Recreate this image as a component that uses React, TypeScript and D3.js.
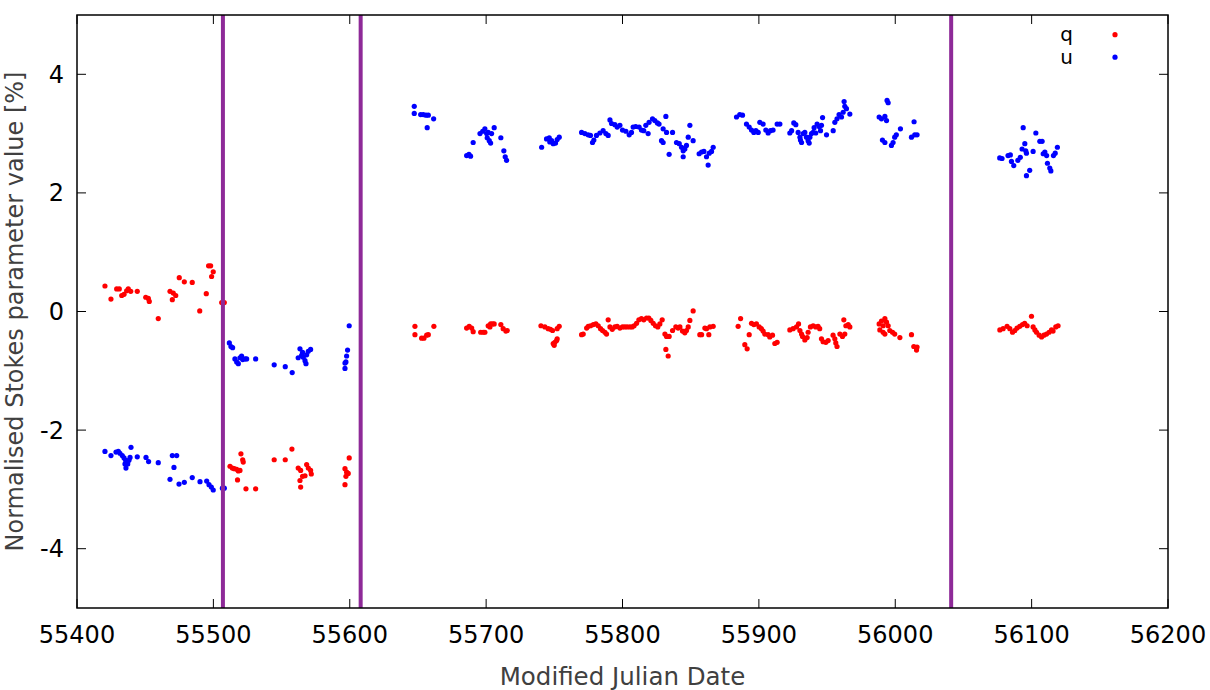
import React from "react";
import * as d3 from "d3";

const qPoints: [number, number][] = [
  [55420.5,0.43],[55424.9,0.21],[55429.1,0.38],[55431.0,0.38],[55432.8,0.27],[55434.5,0.29],[55436.4,0.35],[55437.6,0.38],[55439.4,0.34],[55444.2,0.34],[55450.4,0.24],[55452.3,0.22],[55453.0,0.17],[55459.6,-0.12],[55468.2,0.34],[55470.6,0.31],[55472.4,0.27],[55469.9,0.20],[55475.0,0.57],[55478.7,0.50],[55484.5,0.49],[55490.0,0.01],[55494.8,0.30],[55496.5,0.77],[55498.0,0.77],[55499.9,0.67],[55498.7,0.59],[55506.1,0.15],[55508.0,0.15],
  [55512.2,-2.61],[55513.9,-2.64],[55515.3,-2.65],[55517.1,-2.66],[55518.3,-2.69],[55519.5,-2.68],[55520.2,-2.40],[55521.5,-2.50],[55521.9,-2.54],[55517.7,-2.84],[55523.9,-2.99],[55531.0,-2.99],[55544.6,-2.50],[55552.7,-2.50],[55557.6,-2.32],[55562.2,-2.64],[55564.0,-2.68],[55565.4,-2.78],[55567.2,-2.77],[55563.5,-2.85],[55564.0,-2.96],[55568.4,-2.58],[55569.6,-2.64],[55571.3,-2.68],[55571.8,-2.74],
  [55599.6,-2.47],[55596.5,-2.65],[55597.7,-2.71],[55598.9,-2.73],[55597.2,-2.78],[55596.5,-2.92],
  [55647.8,-0.25],[55647.8,-0.39],[55652.7,-0.45],[55654.4,-0.45],[55656.4,-0.40],[55657.6,-0.39],[55661.7,-0.25],
  [55685.7,-0.28],[55687.6,-0.25],[55689.4,-0.28],[55690.5,-0.34],[55696.0,-0.35],[55697.9,-0.35],[55699.1,-0.35],[55701.5,-0.24],[55703.3,-0.21],[55704.7,-0.21],[55705.9,-0.21],[55702.8,-0.26],[55710.8,-0.22],[55712.5,-0.29],[55714.5,-0.33],[55715.5,-0.32],
  [55740.2,-0.24],[55743.1,-0.26],[55745.5,-0.29],[55747.2,-0.30],[55748.7,-0.32],[55749.2,-0.54],[55750.4,-0.52],[55751.7,-0.49],[55749.9,-0.57],[55752.1,-0.46],[55752.1,-0.29],[55753.6,-0.25],
  [55770.0,-0.39],[55771.2,-0.38],[55773.7,-0.28],[55774.9,-0.25],[55776.6,-0.24],[55778.6,-0.22],[55780.5,-0.21],[55782.2,-0.24],[55783.9,-0.29],[55785.4,-0.32],[55787.1,-0.35],[55788.3,-0.38],[55789.5,-0.14],[55790.8,-0.26],[55792.5,-0.30],[55794.4,-0.26],[55796.1,-0.25],[55798.1,-0.28],[55800.0,-0.26],[55801.7,-0.26],[55803.4,-0.26],[55805.4,-0.26],[55807.1,-0.26],[55808.5,-0.24],[55810.3,-0.20],[55812.0,-0.14],[55813.9,-0.12],[55815.6,-0.14],[55817.6,-0.11],[55819.3,-0.11],[55820.8,-0.15],[55822.5,-0.20],[55824.2,-0.24],[55825.9,-0.26],[55827.4,-0.21],[55829.1,-0.14],[55831.1,-0.38],[55832.3,-0.42],[55834.2,-0.42],[55831.8,-0.64],[55833.5,-0.75],[55836.7,-0.32],[55839.1,-0.26],[55840.8,-0.28],[55842.1,-0.26],[55844.0,-0.33],[55845.7,-0.36],[55846.9,-0.32],[55848.2,-0.26],[55849.4,-0.15],[55851.8,0.01],[55856.7,-0.39],[55858.0,-0.39],[55860.4,-0.28],[55861.6,-0.29],[55863.3,-0.39],[55864.1,-0.26],[55866.5,-0.25],
  [55886.6,-0.12],[55884.8,-0.25],[55889.7,-0.56],[55891.4,-0.63],[55892.9,-0.39],[55894.6,-0.20],[55896.3,-0.22],[55898.2,-0.21],[55900.2,-0.26],[55901.9,-0.29],[55903.1,-0.33],[55904.3,-0.38],[55906.8,-0.39],[55908.0,-0.43],[55910.0,-0.40],[55911.7,-0.54],[55913.4,-0.52],
  [55922.7,-0.31],[55925.1,-0.29],[55927.6,-0.26],[55929.1,-0.21],[55930.1,-0.32],[55931.3,-0.38],[55932.0,-0.42],[55933.7,-0.48],[55935.4,-0.44],[55936.1,-0.35],[55937.8,-0.26],[55939.8,-0.24],[55941.7,-0.26],[55943.4,-0.25],[55944.6,-0.29],[55945.9,-0.46],[55947.1,-0.51],[55949.1,-0.52],[55950.8,-0.49],[55954.4,-0.40],[55955.7,-0.46],[55956.4,-0.53],[55957.3,-0.59],[55959.4,-0.38],[55961.3,-0.42],[55963.0,-0.38],[55962.3,-0.14],[55963.8,-0.24],[55965.5,-0.22],[55966.7,-0.26],
  [55988.2,-0.21],[55989.9,-0.16],[55991.1,-0.24],[55992.4,-0.12],[55993.6,-0.18],[55994.8,-0.24],[55988.7,-0.31],[55991.1,-0.35],[55992.4,-0.38],[55996.0,-0.32],[55998.0,-0.35],[55999.6,-0.38],[56003.4,-0.44],[56011.9,-0.39],[56013.6,-0.59],[56015.6,-0.65],[56016.0,-0.60],
  [56076.7,-0.31],[56079.1,-0.29],[56082.0,-0.25],[56084.0,-0.29],[56086.0,-0.35],[56087.7,-0.32],[56089.3,-0.28],[56091.3,-0.25],[56093.3,-0.22],[56094.9,-0.20],[56096.7,-0.24],[56099.9,-0.08],[56101.1,-0.26],[56102.4,-0.31],[56103.6,-0.35],[56105.5,-0.40],[56107.3,-0.43],[56109.0,-0.40],[56110.9,-0.38],[56112.8,-0.35],[56114.6,-0.31],[56115.7,-0.33],[56117.7,-0.26],[56119.4,-0.24],
];

const uPoints: [number, number][] = [
  [55420.5,-2.36],[55424.9,-2.43],[55428.6,-2.37],[55430.3,-2.36],[55431.5,-2.39],[55433.2,-2.43],[55434.5,-2.47],[55435.7,-2.51],[55435.2,-2.57],[55435.9,-2.64],[55437.2,-2.57],[55438.1,-2.51],[55438.9,-2.46],[55439.6,-2.29],[55444.2,-2.45],[55450.6,-2.46],[55452.5,-2.53],[55459.6,-2.55],[55469.9,-2.43],[55473.1,-2.43],[55471.1,-2.63],[55468.2,-2.83],[55474.8,-2.91],[55478.7,-2.88],[55484.5,-2.80],[55490.2,-2.87],[55495.1,-2.86],[55496.8,-2.92],[55498.5,-2.96],[55499.9,-3.01],[55506.6,-2.98],[55508.0,-2.98],
  [55511.7,-0.53],[55512.9,-0.59],[55514.1,-0.61],[55515.8,-0.80],[55517.1,-0.85],[55518.3,-0.88],[55519.5,-0.78],[55520.7,-0.75],[55521.5,-0.81],[55523.2,-0.80],[55524.4,-0.80],[55531.0,-0.80],[55544.6,-0.90],[55552.7,-0.93],[55557.8,-1.03],[55562.2,-0.78],[55563.5,-0.63],[55564.7,-0.74],[55565.9,-0.77],[55567.2,-0.83],[55567.9,-0.88],[55568.4,-0.73],[55569.6,-0.67],[55571.3,-0.64],[55565.4,-0.69],
  [55599.6,-0.24],[55598.4,-0.65],[55597.7,-0.75],[55597.2,-0.85],[55596.5,-0.87],[55596.5,-0.96],
  [55647.3,3.46],[55647.3,3.34],[55652.0,3.32],[55653.9,3.32],[55655.9,3.31],[55657.6,3.31],[55656.8,3.10],[55661.5,3.25],
  [55685.7,2.63],[55687.4,2.65],[55688.6,2.62],[55690.5,2.85],[55695.5,3.00],[55697.5,3.04],[55699.1,3.08],[55700.4,3.00],[55700.8,2.93],[55702.3,2.88],[55703.3,2.84],[55704.0,3.00],[55705.9,3.10],[55701.5,3.02],[55710.8,2.93],[55713.0,2.71],[55714.0,2.61],[55715.0,2.55],
  [55740.7,2.77],[55744.3,2.91],[55746.3,2.93],[55748.0,2.88],[55749.2,2.83],[55750.9,2.84],[55752.1,2.90],[55753.6,2.94],[55746.7,2.86],
  [55770.0,3.02],[55772.4,3.00],[55774.8,2.98],[55776.5,2.97],[55778.0,2.85],[55779.0,2.89],[55780.9,2.97],[55783.4,3.01],[55785.8,3.05],[55787.8,3.00],[55789.5,2.97],[55790.8,3.23],[55792.0,3.17],[55794.4,3.15],[55796.1,3.11],[55798.1,3.14],[55800.0,3.06],[55802.5,3.04],[55804.9,2.98],[55806.6,3.02],[55807.8,3.11],[55809.7,3.12],[55812.2,3.11],[55813.9,3.06],[55815.6,3.05],[55817.1,3.14],[55818.8,3.00],[55819.5,3.19],[55822.0,3.25],[55823.7,3.22],[55825.6,3.18],[55826.8,3.16],
  [55831.8,3.29],[55829.8,3.08],[55832.3,3.02],[55836.7,3.02],[55828.6,2.88],[55829.8,2.85],[55834.2,2.65],[55839.6,2.85],[55841.6,2.83],[55843.3,2.77],[55844.5,2.71],[55845.7,2.74],[55846.9,2.80],[55848.2,2.94],[55849.4,3.14],[55851.8,2.88],[55844.5,2.61],
  [55856.2,2.66],[55858.0,2.69],[55859.7,2.70],[55861.6,2.61],[55863.6,2.67],[55865.3,2.70],[55866.5,2.77],[55862.8,2.47],
  [55883.6,3.28],[55886.0,3.32],[55888.0,3.31],[55890.9,3.16],[55892.9,3.11],[55894.6,3.06],[55896.3,3.02],[55897.8,3.05],[55899.5,3.02],[55900.7,3.19],[55903.1,3.16],[55905.1,3.06],[55906.8,3.01],[55908.5,3.05],[55910.4,3.06],[55913.4,3.16],[55915.4,3.16],
  [55922.7,3.01],[55924.0,3.05],[55925.6,3.18],[55927.1,3.15],[55928.8,3.02],[55930.1,2.94],[55931.3,2.85],[55930.5,2.89],[55932.5,3.00],[55933.7,3.02],[55934.9,2.94],[55936.1,2.88],[55936.9,2.84],[55937.4,2.94],[55938.6,3.00],[55939.8,3.02],[55940.5,3.10],[55941.7,3.01],[55942.7,3.16],[55944.2,3.12],[55945.2,3.05],[55945.9,3.14],[55946.7,3.27],[55949.6,2.98],[55954.5,3.05],[55955.7,3.19],[55957.3,3.25],[55958.8,3.32],[55960.6,3.28],[55961.8,3.36],[55963.0,3.46],[55962.5,3.54],[55964.2,3.42],[55966.7,3.33],
  [55994.0,3.56],[55994.8,3.52],[55988.2,3.28],[55989.9,3.25],[55992.4,3.29],[55993.6,3.22],[55990.6,2.89],[55992.4,2.85],[55997.2,2.80],[55998.4,2.85],[55999.6,2.94],[56000.8,2.98],[56003.8,3.08],[56013.8,3.20],[56011.9,2.94],[56014.3,2.98],[56016.0,2.98],
  [56093.8,3.10],[56103.1,3.01],[56106.0,2.87],[56107.7,2.87],[56118.9,2.77],[56095.0,2.83],[56093.0,2.74],[56095.7,2.71],[56096.2,2.67],[56101.1,2.70],[56076.6,2.59],[56078.3,2.58],[56082.7,2.63],[56084.4,2.64],[56085.2,2.53],[56086.9,2.46],[56089.9,2.55],[56091.7,2.60],[56108.5,2.66],[56109.7,2.69],[56111.0,2.63],[56116.0,2.63],[56117.3,2.67],[56111.6,2.50],[56113.3,2.42],[56114.1,2.37],[56098.6,2.38],[56096.2,2.29],
];

const markerLines: number[] = [55507, 55608, 56041];
const xTicks: number[] = [55400, 55500, 55600, 55700, 55800, 55900, 56000, 56100, 56200];
const yTicks: number[] = [-4, -2, 0, 2, 4];
const seriesNames = ["q", "u"];
const seriesColors = ["#ff0000", "#0000ff"];

const W = 1210, H = 690;
const L = 77, R = 1168, T = 15, B = 608;
const FONT = "'DejaVu Sans', Verdana, sans-serif";

export default function App() {
  const x = d3.scaleLinear().domain([55400, 56200]).range([L, R]);
  const y = d3.scaleLinear().domain([-5, 5]).range([B, T]);
  const tickLen = 9;
  const series = [qPoints, uPoints];
  return (
    <svg width={W} height={H} style={{ position: "absolute", left: 0, top: 0, background: "#fff" }} fontFamily={FONT}>
      <rect x={0} y={0} width={W} height={H} fill="#fff" />
      {xTicks.map((t) => (
        <g key={"xt" + t}>
          <line x1={x(t)} x2={x(t)} y1={B} y2={B - tickLen} stroke="#000" strokeWidth={1} />
          <line x1={x(t)} x2={x(t)} y1={T} y2={T + tickLen} stroke="#000" strokeWidth={1} />
          <text x={x(t)} y={643} textAnchor="middle" fontSize={24} fill="#000">{t}</text>
        </g>
      ))}
      {yTicks.map((t) => (
        <g key={"yt" + t}>
          <line x1={L} x2={L + tickLen} y1={y(t)} y2={y(t)} stroke="#000" strokeWidth={1} />
          <line x1={R} x2={R - tickLen} y1={y(t)} y2={y(t)} stroke="#000" strokeWidth={1} />
          <text x={64} y={y(t) + 8.5} textAnchor="end" fontSize={24} fill="#000">{t}</text>
        </g>
      ))}
      {series.map((pts, si) => (
        <g key={"s" + si} fill={seriesColors[si]}>
          {pts.map((p, i) => (
            <circle key={i} cx={x(p[0])} cy={y(p[1])} r={2.6} />
          ))}
        </g>
      ))}
      {markerLines.map((m) => (
        <line key={"m" + m} x1={x(m)} x2={x(m)} y1={T} y2={B} stroke="#8e2a98" strokeWidth={4} />
      ))}
      <rect x={L} y={T} width={R - L} height={B - T} fill="none" stroke="#000" strokeWidth={1.5} />
      {seriesNames.map((n, i) => (
        <g key={"lg" + n}>
          <text x={1073} y={41 + i * 22.5} textAnchor="end" fontSize={20} fill="#000">{n}</text>
          <circle cx={1115} cy={34.7 + i * 22.5} r={2.6} fill={seriesColors[i]} />
        </g>
      ))}
      <text x={(L + R) / 2} y={685} textAnchor="middle" fontSize={24.5} fill="#404040">Modified Julian Date</text>
      <text transform={`translate(23, ${(T + B) / 2}) rotate(-90)`} textAnchor="middle" fontSize={24} fill="#404040">
        Normalised Stokes parameter value [%]
      </text>
    </svg>
  );
}
